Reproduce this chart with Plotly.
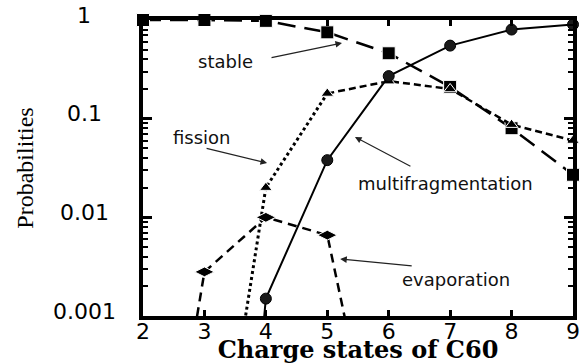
import numpy as np
import plotly.graph_objects as go

# Charge states of C60 and decay-channel probabilities
charge = [2, 3, 4, 5, 6, 7, 8, 9]

stable = [1.0, 1.0, 0.98, 0.75, 0.46, 0.21, 0.08, 0.027]

multi_x = [3, 4, 5, 6, 7, 8, 9]
multifragmentation = [3e-10, 0.0015, 0.038, 0.27, 0.55, 0.8, 0.9]

fission_x = [3, 4, 5, 6, 7, 8, 9]
fission = [2.3e-6, 0.02, 0.18, 0.24, 0.2, 0.087, 0.06]
fission_dotted_upto = 5  # dotted below this charge, dashed above

evap_x = [2, 3, 4, 5, 6]
evaporation = [5e-7, 0.0028, 0.01, 0.0066, 7.8e-6]

y_ticks = [0.001, 0.01, 0.1, 1]
y_ticklabels = ["0.001", "0.01", "0.1", "1"]

# label text, label centre (x, log10 y), arrow head (x, log10 y)
labels = [
    ("stable", 3.335, -0.416, 5.24, -0.233),
    ("fission", 2.96, -1.186, 4.02, -1.449),
    ("multifragmentation", 6.92, -1.652, 5.45, -1.186),
    ("evaporation", 7.10, -2.635, 5.21, -2.422),
]
# arrow tail offsets from the head, in pixels
arrow_tails = {
    "stable": (-72, 15),
    "fission": (-62, -15),
    "multifragmentation": (57, 30),
    "evaporation": (73, 7),
}

Y_MIN = 1e-3


def marker_sizes(ys, size):
    return [size if y >= Y_MIN else 0 for y in ys]


fig = go.Figure()

# stable: long dashes with filled squares
fig.add_trace(go.Scatter(
    x=charge, y=stable, mode="lines+markers",
    line=dict(color="black", width=2.5, dash="18px,9px"),
    marker=dict(symbol="square", size=marker_sizes(stable, 13), color="black", opacity=1),
    cliponaxis=False, showlegend=False,
))

# fission: dotted rise, then dashed
fx = np.array(fission_x)
fy = np.array(fission)
lo = fx <= fission_dotted_upto
hi = fx >= fission_dotted_upto
fig.add_trace(go.Scatter(
    x=fx[lo], y=fy[lo], mode="lines",
    line=dict(color="black", width=3, dash="3px,3px"),
    showlegend=False,
))
fig.add_trace(go.Scatter(
    x=fx[hi], y=fy[hi], mode="lines",
    line=dict(color="black", width=2.5, dash="7px,4px"),
    showlegend=False,
))
fig.add_trace(go.Scatter(
    x=fission_x, y=fission, mode="markers",
    marker=dict(symbol="triangle-up", size=marker_sizes(fission, 11), color="black", opacity=1),
    cliponaxis=False, showlegend=False,
))

# evaporation: dashes with diamonds
fig.add_trace(go.Scatter(
    x=evap_x, y=evaporation, mode="lines+markers",
    line=dict(color="black", width=2.5, dash="9px,6px"),
    marker=dict(symbol="diamond-wide", size=marker_sizes(evaporation, 14), color="black", opacity=1),
    cliponaxis=False, showlegend=False,
))

# multifragmentation: solid with circles
fig.add_trace(go.Scatter(
    x=multi_x, y=multifragmentation, mode="lines+markers",
    line=dict(color="black", width=2),
    marker=dict(symbol="circle", size=marker_sizes(multifragmentation, 11),
                color="#1a1a1a", opacity=1, line=dict(color="black", width=1)),
    cliponaxis=False, showlegend=False,
))

annotations = []
for text, tx, ty, hx, hy in labels:
    annotations.append(dict(
        x=tx, y=ty, xref="x", yref="y", text=text, showarrow=False,
        font=dict(family="DejaVu Sans", size=18, color="#111111"),
    ))
    dx, dy = arrow_tails[text]
    annotations.append(dict(
        x=hx, y=hy, xref="x", yref="y", text="", showarrow=True,
        ax=dx, ay=dy,
        arrowhead=2, arrowsize=1.1, arrowwidth=1.2, arrowcolor="#222222",
    ))

# centred y tick labels
for v, lab in zip(y_ticks, y_ticklabels):
    annotations.append(dict(
        x=-0.137, y=np.log10(v), xref="paper", yref="y", text=lab,
        showarrow=False, xanchor="center", yshift=5,
        font=dict(family="DejaVu Sans", size=22, color="black"),
    ))

fig.update_layout(
    width=583, height=364,
    margin=dict(l=143, r=10, t=20, b=48),
    plot_bgcolor="white", paper_bgcolor="white",
    annotations=annotations,
    xaxis=dict(
        range=[2, 9], tickvals=charge, ticks="inside", ticklen=6, tickwidth=2.5,
        tickcolor="black", showline=True, linewidth=3.5, linecolor="black",
        mirror="ticks", showgrid=False, zeroline=False, automargin=False,
        ticklabelstandoff=-7,
        tickfont=dict(family="DejaVu Sans", size=22, color="black"),
        title=dict(text="<b>Charge states of C60</b>", standoff=5,
                   font=dict(family="DejaVu Serif", size=24, color="black")),
    ),
    yaxis=dict(
        type="log", range=[-3, 0], tickmode="linear", tick0=0, dtick=1,
        showticklabels=False, automargin=False,
        ticks="inside", ticklen=9, tickwidth=2.5, tickcolor="black",
        minor=dict(ticks="inside", ticklen=5, tickwidth=1.5, tickcolor="black",
                   dtick="D1", showgrid=False),
        showline=True, linewidth=3.5, linecolor="black",
        mirror="ticks", showgrid=False, zeroline=False,
        title=dict(text="Probabilities", standoff=100,
                   font=dict(family="Liberation Serif", size=24, color="black")),
    ),
)

fig.write_html("out.html")
